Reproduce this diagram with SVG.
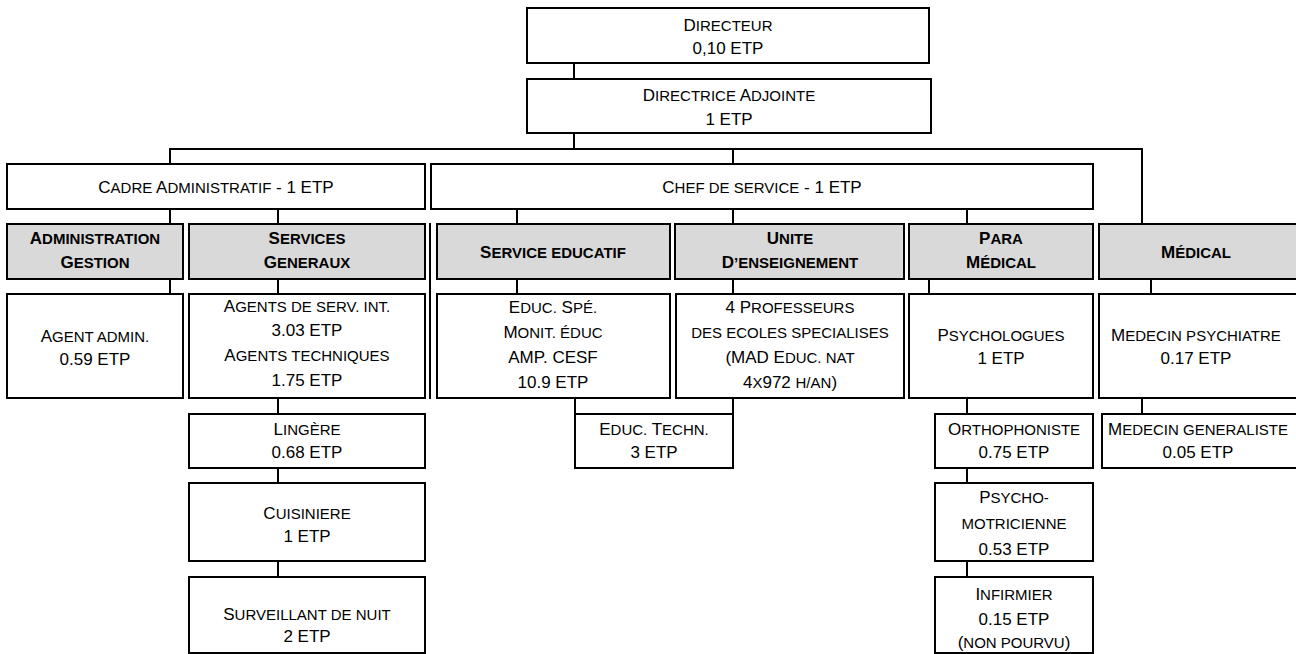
<svg xmlns="http://www.w3.org/2000/svg" width="1296" height="654" viewBox="0 0 1296 654">
<style>
text { font-family: "Liberation Sans", Arial, sans-serif; font-size: 17px; text-anchor: middle; fill: #000; }
.s { font-size: 15px; }
.b { font-weight: bold; }
.box { fill: #fff; stroke: #000; stroke-width: 2; }
.hdr { fill: #d9d9d9; stroke: #000; stroke-width: 2; }
.conn line { stroke: #000; stroke-width: 2; }
</style>
<rect width="1296" height="654" fill="#fff"/>
<g class="conn" id="connectors">
<line x1="574" y1="63" x2="574" y2="79"/>
<line x1="574" y1="133" x2="574" y2="149"/>
<line x1="169" y1="149" x2="1143" y2="149"/>
<line x1="170" y1="149" x2="170" y2="164"/>
<line x1="733" y1="149" x2="733" y2="164"/>
<line x1="1142" y1="149" x2="1142" y2="224"/>
<line x1="170" y1="209" x2="170" y2="224"/>
<line x1="278" y1="209" x2="278" y2="224"/>
<line x1="517" y1="209" x2="517" y2="224"/>
<line x1="733" y1="209" x2="733" y2="224"/>
<line x1="967" y1="209" x2="967" y2="224"/>
<line x1="170" y1="279" x2="170" y2="294"/>
<line x1="278" y1="279" x2="278" y2="294"/>
<line x1="517" y1="279" x2="517" y2="294"/>
<line x1="733" y1="279" x2="733" y2="294"/>
<line x1="929" y1="279" x2="929" y2="294"/>
<line x1="1151" y1="279" x2="1151" y2="294"/>
<line x1="278" y1="398" x2="278" y2="414"/>
<line x1="278" y1="468" x2="278" y2="483"/>
<line x1="278" y1="561" x2="278" y2="577"/>
<line x1="575" y1="398" x2="575" y2="414"/>
<line x1="733" y1="398" x2="733" y2="414"/>
<line x1="967" y1="398" x2="967" y2="414"/>
<line x1="967" y1="468" x2="967" y2="483"/>
<line x1="967" y1="561" x2="967" y2="577"/>
<line x1="1142" y1="398" x2="1142" y2="414"/>
<line x1="430" y1="223" x2="430" y2="399"/>
</g>
<g id="directeur"><rect class="box" x="527" y="8" width="402" height="55"/><text x="728" y="31">D<tspan class="s">IRECTEUR</tspan></text><text x="728" y="54">0,10 ETP</text></g>
<g id="directrice"><rect class="box" x="527" y="79" width="404" height="54"/><text x="729" y="101">D<tspan class="s">IRECTRICE</tspan> A<tspan class="s">DJOINTE</tspan></text><text x="729" y="125">1 ETP</text></g>
<g id="cadre"><rect class="box" x="7" y="164" width="418" height="45"/><text x="216" y="193">C<tspan class="s">ADRE</tspan> A<tspan class="s">DMINISTRATIF</tspan> - 1 ETP</text></g>
<g id="chef"><rect class="box" x="431" y="164" width="662" height="45"/><text x="762" y="193">C<tspan class="s">HEF DE SERVICE</tspan> - 1 ETP</text></g>
<g id="administration"><rect class="hdr" x="7" y="224" width="176" height="55"/><text class="b" x="95" y="244">A<tspan class="s">DMINISTRATION</tspan></text><text class="b" x="95" y="268">G<tspan class="s">ESTION</tspan></text></g>
<g id="services-generaux"><rect class="hdr" x="189" y="224" width="236" height="55"/><text class="b" x="307" y="244">S<tspan class="s">ERVICES</tspan></text><text class="b" x="307" y="268">G<tspan class="s">ENERAUX</tspan></text></g>
<g id="service-educatif"><rect class="hdr" x="437" y="224" width="233" height="55"/><text class="b" x="553" y="258">S<tspan class="s">ERVICE EDUCATIF</tspan></text></g>
<g id="unite"><rect class="hdr" x="675" y="224" width="229" height="55"/><text class="b" x="790" y="244">U<tspan class="s">NITE</tspan></text><text class="b" x="790" y="268">D<tspan class="s">’ENSEIGNEMENT</tspan></text></g>
<g id="para-medical"><rect class="hdr" x="909" y="224" width="184" height="55"/><text class="b" x="1001" y="244">P<tspan class="s">ARA</tspan></text><text class="b" x="1001" y="268">M<tspan class="s">ÉDICAL</tspan></text></g>
<g id="medical"><rect class="hdr" x="1099" y="224" width="210" height="55"/><text class="b" x="1196" y="258">M<tspan class="s">ÉDICAL</tspan></text></g>
<g id="agent-admin"><rect class="box" x="7" y="294" width="176" height="104"/><text x="95" y="342">A<tspan class="s">GENT ADMIN.</tspan></text><text x="95" y="365">0.59 ETP</text></g>
<g id="agents"><rect class="box" x="189" y="294" width="236" height="104"/><text x="307" y="312">A<tspan class="s">GENTS DE SERV. INT.</tspan></text><text x="307" y="336">3.03 ETP</text><text x="307" y="361">A<tspan class="s">GENTS TECHNIQUES</tspan></text><text x="307" y="386">1.75 ETP</text></g>
<g id="lingere"><rect class="box" x="189" y="414" width="236" height="54"/><text x="307" y="435">L<tspan class="s">INGÈRE</tspan></text><text x="307" y="458">0.68 ETP</text></g>
<g id="cuisiniere"><rect class="box" x="189" y="483" width="236" height="78"/><text x="307" y="519">C<tspan class="s">UISINIERE</tspan></text><text x="307" y="542">1 ETP</text></g>
<g id="surveillant"><rect class="box" x="189" y="577" width="236" height="76"/><text x="307" y="620">S<tspan class="s">URVEILLANT DE NUIT</tspan></text><text x="307" y="642">2 ETP</text></g>
<g id="educ-spe"><rect class="box" x="437" y="294" width="233" height="104"/><text x="553" y="313">E<tspan class="s">DUC.</tspan> S<tspan class="s">PÉ.</tspan></text><text x="553" y="338">M<tspan class="s">ONIT. ÉDUC</tspan></text><text x="553" y="363">AMP. CESF</text><text x="553" y="388">10.9 ETP</text></g>
<g id="professeurs"><rect class="box" x="676" y="294" width="228" height="104"/><text x="790" y="313">4 P<tspan class="s">ROFESSEURS</tspan></text><text x="790" y="338"><tspan class="s">DES ECOLES SPECIALISES</tspan></text><text x="790" y="363">(MAD E<tspan class="s">DUC. NAT</tspan></text><text x="790" y="388">4<tspan class="s">X</tspan>972 <tspan class="s">H/AN</tspan>)</text></g>
<g id="educ-techn"><rect class="box" x="575" y="414" width="158" height="54"/><text x="654" y="435">E<tspan class="s">DUC.</tspan> T<tspan class="s">ECHN.</tspan></text><text x="654" y="458">3 ETP</text></g>
<g id="psychologues"><rect class="box" x="909" y="294" width="184" height="104"/><text x="1001" y="341">P<tspan class="s">SYCHOLOGUES</tspan></text><text x="1001" y="364">1 ETP</text></g>
<g id="orthophoniste"><rect class="box" x="935" y="414" width="158" height="54"/><text x="1014" y="435">O<tspan class="s">RTHOPHONISTE</tspan></text><text x="1014" y="458">0.75 ETP</text></g>
<g id="psychomotricienne"><rect class="box" x="935" y="483" width="158" height="78"/><text x="1014" y="503">P<tspan class="s">SYCHO-</tspan></text><text x="1014" y="529"><tspan class="s">MOTRICIENNE</tspan></text><text x="1014" y="555">0.53 ETP</text></g>
<g id="infirmier"><rect class="box" x="935" y="577" width="158" height="76"/><text x="1014" y="600">I<tspan class="s">NFIRMIER</tspan></text><text x="1014" y="625">0.15 ETP</text><text x="1014" y="648">(<tspan class="s">NON POURVU</tspan>)</text></g>
<g id="medecin-psychiatre"><rect class="box" x="1099" y="294" width="210" height="104"/><text x="1196" y="341">M<tspan class="s">EDECIN PSYCHIATRE</tspan></text><text x="1196" y="364">0.17 ETP</text></g>
<g id="medecin-generaliste"><rect class="box" x="1102" y="414" width="207" height="54"/><text x="1198" y="435">M<tspan class="s">EDECIN GENERALISTE</tspan></text><text x="1198" y="458">0.05 ETP</text></g>
</svg>
